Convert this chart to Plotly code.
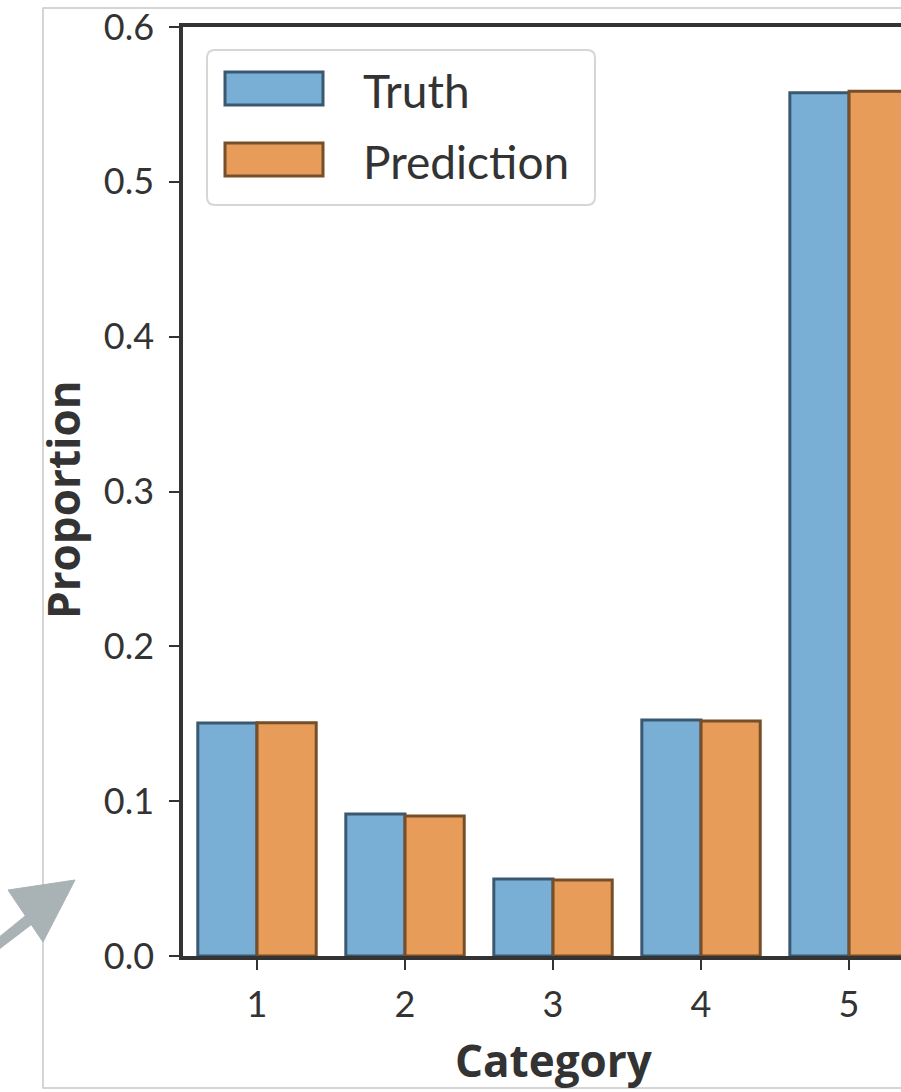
import plotly.graph_objects as go

categories = ["1", "2", "3", "4", "5"]
truth = [0.1505, 0.0917, 0.0497, 0.1524, 0.5575]
prediction = [0.1507, 0.0904, 0.0491, 0.1518, 0.5585]
series_names = ["Truth", "Prediction"]
y_ticks = [0.0, 0.1, 0.2, 0.3, 0.4, 0.5, 0.6]

W, H = 901, 1092
L, T, B, R = 183, 27, 956, 901  # plot area in pixels

def px(x):
    return (x - L) / (R - L)

def py(y):
    return (B - y) / (B - T)

BLUE = "rgb(122,175,213)"
BLUE_E = "rgb(58,88,112)"
ORANGE = "rgb(232,156,90)"
ORANGE_E = "rgb(118,78,40)"
AX = "#333333"
FONT = "Lato"
TITLE_FONT = "Open Sans"

fig = go.Figure()
fig.add_trace(go.Bar(x=categories, y=truth, name=series_names[0],
                     marker=dict(color=BLUE, line=dict(color=BLUE_E, width=3)),
                     showlegend=False))
fig.add_trace(go.Bar(x=categories, y=prediction, name=series_names[1],
                     marker=dict(color=ORANGE, line=dict(color=ORANGE_E, width=3)),
                     showlegend=False))

shapes = []
annotations = []

# outer frame
shapes.append(dict(type="rect", xref="paper", yref="paper",
                   x0=px(43), x1=px(960), y0=py(1088), y1=py(8),
                   line=dict(color="#c8c8c8", width=1.5), layer="below"))

# arrow (decoration at bottom-left)
arrow_path = ("M {} {} L {} {} L {} {} L {} {} Z".format(
    px(-2), py(938), px(30), py(912), px(36), py(921), px(-2), py(950)))
head_path = ("M {} {} L {} {} L {} {} Z".format(
    px(8), py(890), px(75), py(880), px(43), py(942)))
for p in (arrow_path, head_path):
    shapes.append(dict(type="path", xref="paper", yref="paper", path=p,
                       fillcolor="#a9b3b5", line=dict(color="#a9b3b5", width=1)))

# custom legend with rounded box
def rounded_rect(x0, y0, x1, y1, r):
    pts = [
        ("M", x0 + r, y0), ("L", x1 - r, y0), ("Q", x1, y0, x1, y0 + r),
        ("L", x1, y1 - r), ("Q", x1, y1, x1 - r, y1), ("L", x0 + r, y1),
        ("Q", x0, y1, x0, y1 - r), ("L", x0, y0 + r), ("Q", x0, y0, x0 + r, y0),
    ]
    out = []
    for p in pts:
        cmd = p[0]
        coords = p[1:]
        s = []
        for i in range(0, len(coords), 2):
            s.append("{:.5f},{:.5f}".format(px(coords[i]), py(coords[i + 1])))
        out.append(cmd + " " + " ".join(s))
    return " ".join(out) + " Z"

shapes.append(dict(type="path", xref="paper", yref="paper",
                   path=rounded_rect(207, 50, 595, 205, 8),
                   line=dict(color="#d6d6d6", width=2), fillcolor="white"))
for i, (name, c, e) in enumerate([(series_names[0], BLUE, BLUE_E),
                                  (series_names[1], ORANGE, ORANGE_E)]):
    y0 = 72 + i * 71
    shapes.append(dict(type="rect", xref="paper", yref="paper",
                       x0=px(225), x1=px(323), y0=py(y0 + 33), y1=py(y0),
                       line=dict(color=e, width=3), fillcolor=c))
    annotations.append(dict(text=name, xref="paper", yref="paper",
                            x=px(361), y=py(y0 + 18), xanchor="left", yanchor="middle",
                            showarrow=False, font=dict(family=FONT, size=46, color="#333")))

# axis titles
annotations.append(dict(text="<b>Category</b>", xref="paper", yref="paper",
                        x=px(554), y=py(1060), xanchor="center", yanchor="middle",
                        showarrow=False, font=dict(family=TITLE_FONT, size=44, color="#333")))
annotations.append(dict(text="<b>Proportion</b>", xref="paper", yref="paper",
                        x=px(63), y=py(500), xanchor="center", yanchor="middle",
                        textangle=-90, showarrow=False,
                        font=dict(family=TITLE_FONT, size=44, color="#333")))

fig.update_layout(
    width=W, height=H,
    margin=dict(l=L, r=W - R, t=T, b=H - B, pad=0),
    paper_bgcolor="white", plot_bgcolor="white",
    barmode="group", bargap=0.2, bargroupgap=0,
    shapes=shapes, annotations=annotations,
    font=dict(family=FONT, color="#333"),
)
fig.update_xaxes(type="category", range=[-0.5, 4.351],
                 showline=True, linecolor=AX, linewidth=3.5, mirror=True,
                 ticks="outside", ticklen=10, tickwidth=2, tickcolor=AX,
                 tickfont=dict(family=FONT, size=36, color="#333"),
                 ticklabelstandoff=4, showgrid=False, zeroline=False)
fig.update_yaxes(range=[0, 0.6], tickvals=y_ticks,
                 ticktext=["{:.1f}".format(v) for v in y_ticks],
                 showline=True, linecolor=AX, linewidth=3.5, mirror=False,
                 ticks="outside", ticklen=10, tickwidth=2, tickcolor=AX,
                 tickfont=dict(family=FONT, size=36, color="#333"),
                 ticklabelstandoff=8, showgrid=False, zeroline=False)

fig.write_html("out.html",
               config={"displayModeBar": False},
               post_script="document.body.style.margin='0';"
                           "document.body.style.overflow='hidden';")
